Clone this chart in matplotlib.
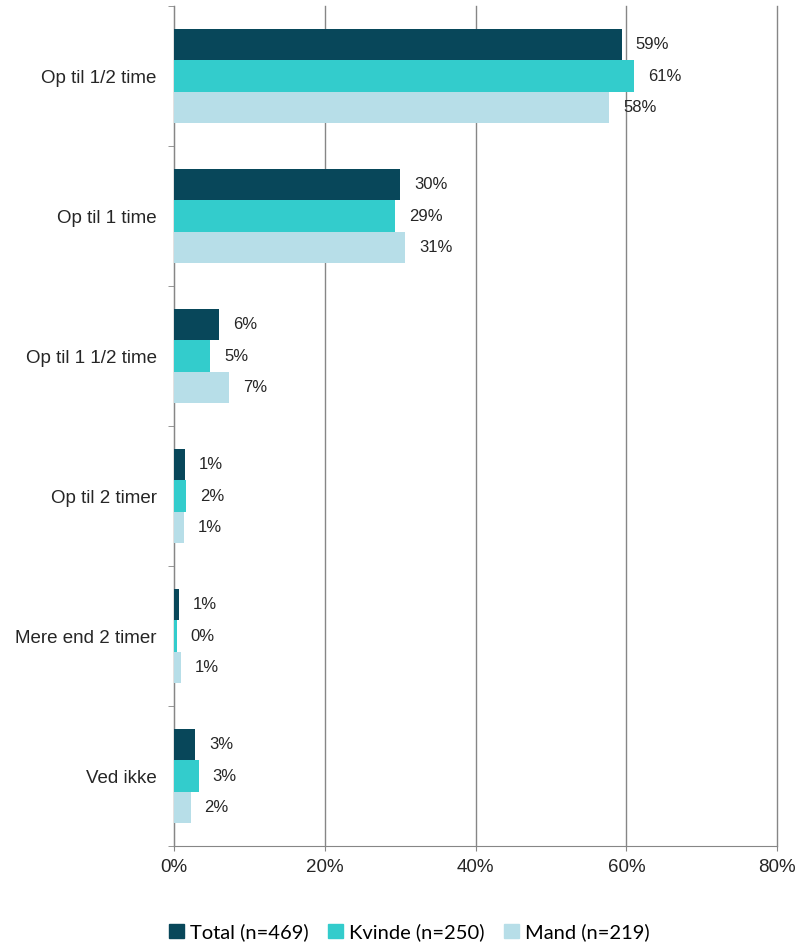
import numpy as np
import matplotlib.pyplot as plt
from matplotlib.patches import Patch

# værdier (procent)
kategorier = ['Op til 1/2 time', 'Op til 1 time', 'Op til 1 1/2 time',
              'Op til 2 timer', 'Mere end 2 timer', 'Ved ikke']
total = [59.4, 30.0, 6.0, 1.4, 0.7, 2.8]
kvinde = [61.0, 29.3, 4.8, 1.6, 0.4, 3.3]
mand = [57.7, 30.7, 7.3, 1.3, 0.9, 2.2]
serier = ['Total (n=469)', 'Kvinde (n=250)', 'Mand (n=219)']
farver = ['#08475A', '#33CCCC', '#B7DEE8']
xticks = [0, 20, 40, 60, 80]

plt.rcParams['font.family'] = ['Liberation Sans', 'DejaVu Sans']

fig = plt.figure(figsize=(7.98, 9.44), dpi=100)
ax = fig.add_axes([0.218, 0.1038, 0.756, 0.8898])

y = np.arange(len(kategorier))
h = 0.222
for i, (vals, farve) in enumerate(zip([total, kvinde, mand], farver)):
    pos = y + (i - 1) * h
    ax.barh(pos, vals, height=h, color=farve, zorder=3)
    for p, v in zip(pos, vals):
        ax.annotate(f'{v:.0f}%', (v, p), xytext=(10, 0), textcoords='offset points',
                    va='center', ha='left', fontsize=12, color='#262626')

ax.set_xlim(0, 80)
ax.set_ylim(len(kategorier) - 0.5, -0.5)
ax.set_xticks(xticks)
ax.set_xticklabels([f'{t}%' for t in xticks], fontsize=13.5, color='#262626')
ax.set_yticks(y)
ax.set_yticklabels(kategorier, fontsize=13.5, color='#262626')
ax.tick_params(axis='y', length=0, pad=12.5)
ax.set_yticks(np.arange(-0.5, len(kategorier)), minor=True)
ax.tick_params(axis='y', which='minor', length=4.5, color='#868686')
ax.tick_params(axis='x', length=3.5, color='#868686', pad=6)

ax.grid(axis='x', color='#868686', linewidth=1, zorder=0)
for line in ax.get_xgridlines():
    line.set_clip_on(False)
for s in ['top', 'right']:
    ax.spines[s].set_visible(False)
for s in ['left', 'bottom']:
    ax.spines[s].set_color('#868686')

handles = [Patch(color=f) for f in farver]
fig.legend(handles, serier, loc='center', bbox_to_anchor=(0.513, 0.0127), ncol=3,
           frameon=False, prop={'family': 'Lato', 'size': 14.5}, handlelength=0.75,
           handleheight=0.75, handletextpad=0.3, columnspacing=0.95)

fig.savefig('out.png', dpi=100)
